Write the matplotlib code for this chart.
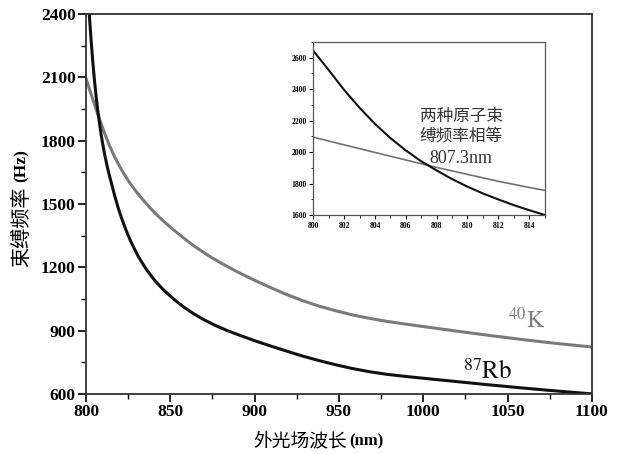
import numpy as np
import matplotlib
matplotlib.use('Agg')
import matplotlib.pyplot as plt
from matplotlib.ticker import MultipleLocator

# --- datos ---
wl_rb = [800, 801, 802, 803, 804, 805, 806, 807, 808, 809, 810, 811, 812, 813, 814,
         815, 817, 819, 821, 823, 825, 827, 831, 836, 841, 846, 852, 858, 864, 870,
         877, 884, 892, 900, 909, 918, 928, 938, 948, 958, 968, 978, 989, 1000, 1020,
         1040, 1060, 1080, 1100]
f_rb = [2642, 2520, 2394, 2281, 2179, 2089, 2011, 1942, 1884, 1829, 1781, 1738, 1700,
        1664, 1632, 1602, 1540, 1485, 1436, 1392, 1352, 1316, 1252, 1188, 1136, 1093,
        1050, 1012, 980, 952, 924, 900, 876, 853, 829, 806, 781, 759, 739, 721, 706,
        694, 684, 675, 659, 643, 628, 614, 601]

wl_k = [800, 802, 804, 806, 808, 810, 812, 814, 815, 817, 819, 821, 823, 825, 827,
        830, 834, 838, 842, 846, 850, 855, 860, 866, 873, 880, 890, 900, 909, 918,
        928, 938, 948, 958, 968, 978, 989, 1000, 1020, 1040, 1060, 1080, 1100]
f_k = [2095, 2046, 1998, 1950, 1903, 1859, 1815, 1776, 1758, 1724, 1693, 1664, 1637,
       1612, 1589, 1557, 1518, 1482, 1449, 1419, 1391, 1358, 1326, 1291, 1254, 1221,
       1178, 1139, 1106, 1075, 1044, 1017, 995, 975, 959, 945, 932, 920, 898, 877,
       857, 839, 823]

xticks = [800, 850, 900, 950, 1000, 1050, 1100]
yticks = [600, 900, 1200, 1500, 1800, 2100, 2400]
xticks_in = [800, 802, 804, 806, 808, 810, 812, 814]
yticks_in = [1600, 1800, 2000, 2200, 2400, 2600]

plt.rcParams['mathtext.fontset'] = 'stix'
serif = 'Liberation Serif'
cjk = ['Noto Sans CJK SC', 'DejaVu Sans']
W, H = 623, 454

fig = plt.figure(figsize=(6.23, 4.54), dpi=100)
ax = fig.add_axes([0.138, 0.132, 0.812, 0.837])

ax.plot(wl_k, f_k, color='#7a7a7a', lw=2.2)
ax.plot(wl_rb, f_rb, color='#111111', lw=2.2)
ax.set_xlim(800, 1100)
ax.set_ylim(600, 2400)
ax.set_xticks(xticks)
ax.set_yticks(yticks)
ax.xaxis.set_minor_locator(MultipleLocator(25))
ax.yaxis.set_minor_locator(MultipleLocator(150))
ax.tick_params(which='major', direction='out', length=5.5, width=1.2, labelsize=12.5, pad=2)
ax.tick_params(which='minor', direction='out', length=3.5, width=1.0)
for lab in ax.get_xticklabels() + ax.get_yticklabels():
    lab.set_fontfamily(serif)
    lab.set_fontweight('bold')
for s in ax.spines.values():
    s.set_linewidth(1.3)
    s.set_color('#333333')

# etiquetas de ejes: chino + unidades en serif negrita
yl = fig.text(22 / W, 1 - 267 / H, '束缚频率', rotation=90, ha='center', va='bottom',
              family=cjk, fontsize=14.5)
fig.text(253 / W, 1 - 441 / H, '外光场波长', ha='left', va='center',
         family=cjk, fontsize=13.5)
fig.text(349 / W, 1 - 441 / H, '(nm)', ha='left', va='center',
         family=serif, fontweight='bold', fontsize=12)

fig.canvas.draw()
bb = yl.get_window_extent()
fig.text(22 / W, (bb.y1 + 5) / H, '(Hz)', rotation=90, ha='center', va='bottom',
         family=serif, fontweight='bold', fontsize=12.5)

ax.text(1072, 914, r'$^{40}\mathrm{K}$', color='#808080', fontsize=17, ha='right')
ax.text(1053, 674, r'$^{87}\mathrm{Rb}$', color='#111111', fontsize=18, ha='right')

# --- recuadro ampliado ---
axi = fig.add_axes([0.503, 0.526, 0.371, 0.382])
axi.plot(wl_k, f_k, color='#707070', lw=1.2)
axi.plot(wl_rb, f_rb, color='#111111', lw=1.5)
axi.set_xlim(800, 815)
axi.set_ylim(1600, 2700)
axi.set_xticks(xticks_in)
axi.set_yticks(yticks_in)
axi.xaxis.set_minor_locator(MultipleLocator(1))
axi.yaxis.set_minor_locator(MultipleLocator(100))
axi.tick_params(which='major', direction='out', length=3, width=0.8, labelsize=5.5, pad=2)
axi.tick_params(which='minor', direction='out', length=1.8, width=0.6)
for lab in axi.get_xticklabels() + axi.get_yticklabels():
    lab.set_fontfamily(serif)
    lab.set_fontweight('bold')
for s in axi.spines.values():
    s.set_linewidth(0.9)
    s.set_color('#555555')

axi.text(809.6, 2162, '两种原子束\n缚频率相等', family=cjk, fontsize=12,
         color='#333333', ha='center', va='center', linespacing=1.2)
axi.text(809.6, 1962, '807.3nm', family=serif, fontsize=13,
         color='#333333', ha='center', va='center')

fig.savefig('out.png', dpi=100)
